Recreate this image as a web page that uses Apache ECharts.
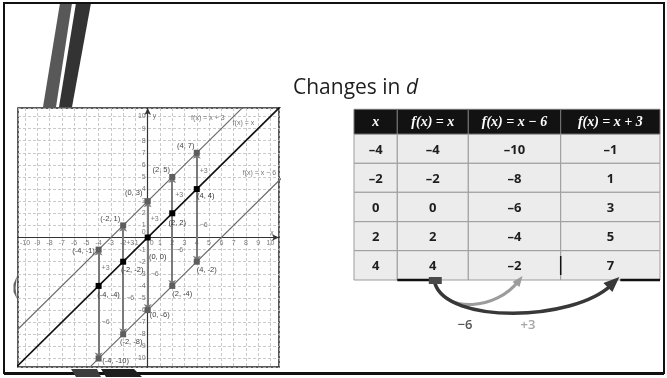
<!DOCTYPE html>
<html>
<head>
<meta charset="utf-8">
<script src="https://cdn.jsdelivr.net/npm/echarts@6/dist/echarts.min.js"></script>
<style>
  html, body { margin: 0; padding: 0; background: #fff; }
  #c { width: 667px; height: 378px; }
</style>
</head>
<body>
<div id="c"></div>
<script>
// ---- values ----
const tableHeaders = ['x', 'f(x) = x', 'f(x) = x \u2212 6', 'f(x) = x + 3'];
const xValues = [-4, -2, 0, 2, 4];
const identityValues = [-4, -2, 0, 2, 4];
const minusSixValues = [-10, -8, -6, -4, -2];
const plusThreeValues = [-1, 1, 3, 5, 7];

// end points of the three graphed lines (they run past the plot window and get clipped)
const lineEndX = [-11, 11];
const identityEndY = [-11, 11];
const minusSixEndY = [-17, 5];
const plusThreeEndY = [-8, 14];

// tick labels written along both axes
const tickLabels = [-10, -9, -8, -7, -6, -5, -4, -3, -2, -1, 0, 1, 2, 3, 4, 5, 6, 7, 8, 9, 10];

const functionNames = ['f(x) = x + 3', 'f(x) = x', 'f(x) = x \u2212 6'];
const shiftTexts = ['\u22126', '+3'];

// ---- layout (not data) ----
const plot = { left: 18, top: 108, width: 261, height: 259 };
const plotX = [-10.57, 10.7];
const plotY = [-10.7, 10.7];
const table = { left: 354, top: 109.3 };
const colWidths = [43.3, 71, 92.4, 99.3];
const rowHeights = [25, 29, 29, 29.4, 29, 29.3];
const colEdges = colWidths.reduce((a, w) => (a.push(a[a.length - 1] + w), a), [0]);
const rowEdges = rowHeights.reduce((a, h) => (a.push(a[a.length - 1] + h), a), [0]);
const tableW = colEdges[colEdges.length - 1];
const tableH = rowEdges[rowEdges.length - 1];

// label offsets (px) around each plotted point
const plusThreeLabelOffset = [[-15, 1], [-13, -6], [-14, -8], [-11, -7], [-11, -7]];
const identityLabelOffset = [[10, 9], [9, 8], [10, 19], [5, 10], [9, 7]];
const minusSixLabelOffset = [[17, 2], [8, 8], [12, 5], [10, 8], [10, 8]];

const fmtCell = n => (n < 0 ? '\u2013' + Math.abs(n) : String(n));
const fmtPair = (x, y) => '(' + x + ', ' + y + ')';
const labelFont = '"Liberation Sans"';

// ---- table cells ----
const cells = [];
tableHeaders.forEach((h, c) => cells.push({ c: c, r: 0, text: h, header: true }));
xValues.forEach((x, i) => {
  [x, identityValues[i], minusSixValues[i], plusThreeValues[i]].forEach((v, c) =>
    cells.push({ c: c, r: i + 1, text: fmtCell(v), header: false }));
});

function renderCell(params, api) {
  const cell = cells[params.dataIndex];
  const p0 = api.coord([colEdges[cell.c], rowEdges[cell.r]]);
  const p1 = api.coord([colEdges[cell.c + 1], rowEdges[cell.r + 1]]);
  const x = Math.min(p0[0], p1[0]), y = Math.min(p0[1], p1[1]);
  const w = Math.abs(p1[0] - p0[0]), h = Math.abs(p1[1] - p0[1]);
  return {
    type: 'group',
    children: [
      {
        type: 'rect',
        shape: { x: x, y: y, width: w, height: h },
        style: cell.header
          ? { fill: '#121212', stroke: '#777', lineWidth: 1 }
          : { fill: '#ececec', stroke: '#9c9c9c', lineWidth: 1 }
      },
      {
        type: 'text',
        style: {
          text: cell.text,
          x: x + w / 2,
          y: y + h / 2 + 1,
          align: 'center',
          verticalAlign: 'middle',
          fill: cell.header ? '#fff' : '#1e1e1e',
          font: cell.header
            ? 'italic bold 14px "Liberation Serif"'
            : 'bold 13px "Open Sans"'
        }
      }
    ]
  };
}

// ---- graph points and labels ----
function pointItems(ys, offsets) {
  return xValues.map((x, i) => ({
    name: fmtPair(x, ys[i]),
    value: [x, ys[i]],
    label: { offset: offsets[i] }
  }));
}

const arrowData = [];
const shiftNotes = [];
xValues.forEach((x, i) => {
  arrowData.push({ coords: [[x, identityValues[i]], [x, plusThreeValues[i]]] });
  arrowData.push({ coords: [[x, identityValues[i]], [x, minusSixValues[i]]] });
  shiftNotes.push({ name: shiftTexts[1], value: [x, (identityValues[i] + plusThreeValues[i]) / 2] });
  shiftNotes.push({ name: shiftTexts[0], value: [x, (identityValues[i] + minusSixValues[i]) / 2] });
});

const axisNotes = [
  { name: functionNames[0], value: [4.9, 9.9] },
  { name: functionNames[1], value: [7.8, 9.45] },
  { name: functionNames[2], value: [9.1, 5.3] },
  { name: 'y', value: [0.55, 10.05] },
  { name: 'x', value: [10.13, 0.4] }
];

// tick labels sit on the axes through the origin
const xTickItems = tickLabels.map(v => ({
  name: String(v), value: [v, 0],
  label: v === 0 ? { offset: [4, 2] } : {}
}));
const yTickItems = tickLabels.filter(v => v !== 0).map(v => ({ name: String(v), value: [0, v] }));
const originItem = [{ name: '0', value: [0, 0] }];

// ---- annotation arrows under the table ----
const rowBottom = table.top + tableH;
const startX = table.left + colEdges[1] + colWidths[1] / 2 + 2;
const midTip = [table.left + colEdges[2] + colWidths[2] / 2 + 7, rowBottom - 4];
const farTip = [table.left + colEdges[3] + colWidths[3] / 2 + 7, rowBottom - 3];

const gridLine = { show: true, lineStyle: { color: '#bdbdbd', width: 0.8, type: [3, 2] } };
const axisLineStyle = { onZero: true, symbol: ['none', 'arrow'], symbolSize: [5, 7],
  lineStyle: { color: '#333', width: 1.2 } };

const option = {
  animation: false,
  backgroundColor: '#fff',
  title: {
    left: 288,
    top: 73,
    text: '{a|Changes in }{b|d}',
    textStyle: {
      rich: {
        a: { fontSize: 21, fontWeight: 'normal', fontFamily: '"Open Sans"', color: '#1e1e1e' },
        b: { fontSize: 21, fontWeight: 'normal', fontFamily: '"Open Sans"', fontStyle: 'italic', color: '#1e1e1e' }
      }
    }
  },
  grid: [
    { left: plot.left, top: plot.top, width: plot.width, height: plot.height,
      show: true, backgroundColor: '#fff', borderColor: '#222', borderWidth: 1.5 },
    { left: table.left, top: table.top, width: tableW, height: tableH, show: false }
  ],
  xAxis: [
    {
      type: 'value', gridIndex: 0, min: plotX[0], max: plotX[1],
      splitNumber: 21, minInterval: 1, maxInterval: 1,
      axisLine: axisLineStyle,
      axisTick: { show: false },
      axisLabel: { show: false },
      splitLine: gridLine
    },
    { type: 'value', gridIndex: 1, min: 0, max: tableW, show: false }
  ],
  yAxis: [
    {
      type: 'value', gridIndex: 0, min: plotY[0], max: plotY[1],
      splitNumber: 21, minInterval: 1, maxInterval: 1,
      axisLine: axisLineStyle,
      axisTick: { show: false },
      axisLabel: { show: false },
      splitLine: gridLine
    },
    { type: 'value', gridIndex: 1, min: 0, max: tableH, inverse: true, show: false }
  ],
  graphic: [
    // slide frame
    { type: 'rect', z: 100, silent: true,
      shape: { x: 4, y: 3, width: 660, height: 370 },
      style: { fill: null, stroke: '#111', lineWidth: 2 } },
    { type: 'line', z: 100, silent: true,
      shape: { x1: 4, y1: 373.5, x2: 664, y2: 373.5 },
      style: { stroke: '#111', lineWidth: 3 } },
    // slanted accent bars
    { type: 'polygon', z: -1, silent: true,
      shape: { points: [[43, 107], [56, 107], [72, 3], [60, 3]] },
      style: { fill: '#585858' } },
    { type: 'polygon', z: -1, silent: true,
      shape: { points: [[59, 107], [72, 107], [91, 3], [76, 3]] },
      style: { fill: '#333' } },
    { type: 'polygon', z: 101, silent: true,
      shape: { points: [[71, 369], [97, 369], [101, 377], [76, 377]] },
      style: { fill: '#3c3c3c' } },
    { type: 'polygon', z: 101, silent: true,
      shape: { points: [[101, 369], [134, 369], [142, 377], [106, 377]] },
      style: { fill: '#1e1e1e' } },
    { type: 'polygon', z: 101, silent: true,
      shape: { points: [[17, 276], [13.5, 284], [13.5, 292], [17, 299], [15.5, 288]] },
      style: { fill: '#666' } },
    // emphasised bottom border pieces of the table
    { type: 'line', z: 50, silent: true,
      shape: { x1: table.left + colEdges[1], y1: rowBottom, x2: startX - 4, y2: rowBottom },
      style: { stroke: '#111', lineWidth: 2.5 } },
    { type: 'line', z: 50, silent: true,
      shape: { x1: farTip[0] + 3, y1: rowBottom, x2: table.left + tableW, y2: rowBottom },
      style: { stroke: '#111', lineWidth: 2.5 } },
    { type: 'line', z: 50, silent: true,
      shape: { x1: table.left + colEdges[3], y1: rowBottom - 24, x2: table.left + colEdges[3], y2: rowBottom - 5 },
      style: { stroke: '#111', lineWidth: 1.5 } },
    // curved arrows: 4 -> -2 and 4 -> 7
    { type: 'bezierCurve', z: 60, silent: true,
      shape: { x1: startX, y1: rowBottom + 3, cpx1: startX + 10, cpy1: rowBottom + 34,
               cpx2: midTip[0] - 25, cpy2: rowBottom + 30, x2: midTip[0] - 3, y2: midTip[1] + 5 },
      style: { stroke: '#9c9c9c', lineWidth: 3, fill: null } },
    { type: 'polygon', z: 61, silent: true,
      shape: { points: [[midTip[0] + 1, midTip[1]], [midTip[0] - 9, midTip[1] + 6], [midTip[0] - 2, midTip[1] + 11]] },
      style: { fill: '#9c9c9c' } },
    { type: 'bezierCurve', z: 62, silent: true,
      shape: { x1: startX, y1: rowBottom + 3, cpx1: startX + 12, cpy1: rowBottom + 44,
               cpx2: farTip[0] - 45, cpy2: rowBottom + 42, x2: farTip[0] - 6, y2: farTip[1] + 8 },
      style: { stroke: '#383838', lineWidth: 3.5, fill: null } },
    { type: 'polygon', z: 63, silent: true,
      shape: { points: [[farTip[0] + 2, farTip[1]], [farTip[0] - 14, farTip[1] + 6], [farTip[0] - 5, farTip[1] + 15]] },
      style: { fill: '#383838' } },
    { type: 'rect', z: 63, silent: true,
      shape: { x: startX - 6, y: rowBottom - 3, width: 13, height: 7 },
      style: { fill: '#4a4a4a' } },
    { type: 'text', z: 63, silent: true,
      style: { text: shiftTexts[0], x: 465, y: 325, align: 'center', verticalAlign: 'middle',
               font: '600 13px "Open Sans"', fill: '#555' } },
    { type: 'text', z: 63, silent: true,
      style: { text: shiftTexts[1], x: 528, y: 325, align: 'center', verticalAlign: 'middle',
               font: '600 13px "Open Sans"', fill: '#a5a5a5' } }
  ],
  series: [
    { type: 'line', xAxisIndex: 0, yAxisIndex: 0, name: functionNames[0], clip: true,
      data: lineEndX.map((x, i) => [x, plusThreeEndY[i]]), showSymbol: false, silent: true,
      lineStyle: { color: '#6a6a6a', width: 1.1 } },
    { type: 'line', xAxisIndex: 0, yAxisIndex: 0, name: functionNames[1], clip: true,
      data: lineEndX.map((x, i) => [x, identityEndY[i]]), showSymbol: false, silent: true,
      lineStyle: { color: '#111', width: 1.7 } },
    { type: 'line', xAxisIndex: 0, yAxisIndex: 0, name: functionNames[2], clip: true,
      data: lineEndX.map((x, i) => [x, minusSixEndY[i]]), showSymbol: false, silent: true,
      lineStyle: { color: '#6a6a6a', width: 1.1 } },
    { type: 'lines', coordinateSystem: 'cartesian2d', xAxisIndex: 0, yAxisIndex: 0, silent: true,
      data: arrowData, symbol: ['none', 'arrow'], symbolSize: 6,
      lineStyle: { color: '#7a7a7a', width: 2, opacity: 1 }, z: 3 },
    { type: 'scatter', xAxisIndex: 0, yAxisIndex: 0, silent: true, z: 4,
      data: pointItems(plusThreeValues, plusThreeLabelOffset),
      symbol: 'rect', symbolSize: 6, itemStyle: { color: '#5e5e5e', opacity: 1 },
      label: { show: true, position: 'inside', formatter: '{b}', fontSize: 7.5, color: '#444', fontFamily: labelFont } },
    { type: 'scatter', xAxisIndex: 0, yAxisIndex: 0, silent: true, z: 4,
      data: pointItems(minusSixValues, minusSixLabelOffset),
      symbol: 'rect', symbolSize: 6, itemStyle: { color: '#5e5e5e', opacity: 1 },
      label: { show: true, position: 'inside', formatter: '{b}', fontSize: 7.5, color: '#444', fontFamily: labelFont } },
    { type: 'scatter', xAxisIndex: 0, yAxisIndex: 0, silent: true, z: 5,
      data: pointItems(identityValues, identityLabelOffset),
      symbol: 'rect', symbolSize: 6, itemStyle: { color: '#000', opacity: 1 },
      label: { show: true, position: 'inside', formatter: '{b}', fontSize: 7.5, color: '#333', fontFamily: labelFont } },
    { type: 'scatter', xAxisIndex: 0, yAxisIndex: 0, silent: true, z: 5,
      data: shiftNotes, symbolSize: 0,
      label: { show: true, position: 'inside', align: 'left', offset: [3, 0], formatter: '{b}',
               fontSize: 7, color: '#555', fontFamily: labelFont } },
    { type: 'scatter', xAxisIndex: 0, yAxisIndex: 0, silent: true, z: 5,
      data: axisNotes, symbolSize: 0,
      label: { show: true, position: 'inside', formatter: '{b}',
               fontSize: 7, color: '#555', fontFamily: labelFont } },
    // x tick labels under the horizontal axis
    { type: 'scatter', xAxisIndex: 0, yAxisIndex: 0, silent: true, z: 5,
      data: xTickItems, symbolSize: 0,
      label: { show: true, position: 'inside', verticalAlign: 'top', offset: [0, 2], formatter: '{b}',
               fontSize: 7, color: '#555', fontFamily: labelFont } },
    // y tick labels left of the vertical axis
    { type: 'scatter', xAxisIndex: 0, yAxisIndex: 0, silent: true, z: 5,
      data: yTickItems, symbolSize: 0,
      label: { show: true, position: 'inside', align: 'right', offset: [-2, 0], formatter: '{b}',
               fontSize: 7, color: '#555', fontFamily: labelFont } },
    { type: 'scatter', xAxisIndex: 0, yAxisIndex: 0, silent: true, z: 5,
      data: originItem, symbolSize: 0,
      label: { show: true, position: 'inside', align: 'right', offset: [-2, -5], formatter: '{b}',
               fontSize: 7, color: '#555', fontFamily: labelFont } },
    { type: 'custom', xAxisIndex: 1, yAxisIndex: 1, silent: true,
      data: cells.map(d => [d.c, d.r]), renderItem: renderCell }
  ]
};

const chart = echarts.init(document.getElementById('c'));
chart.setOption(option);
</script>
</body>
</html>
